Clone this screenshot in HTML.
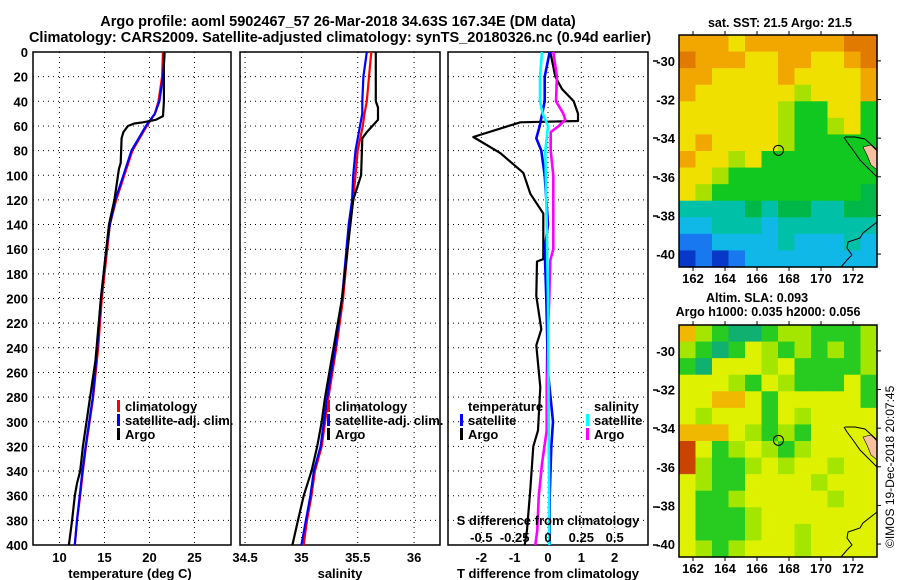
<!DOCTYPE html>
<html><head><meta charset="utf-8"><style>
html,body{margin:0;padding:0;background:#fff;}
svg{display:block;font-family:"Liberation Sans",sans-serif;font-weight:bold;}
</style></head><body>
<svg id="c" width="900" height="580" viewBox="0 0 900 580" xmlns="http://www.w3.org/2000/svg">
<text x="338" y="26" font-size="14.5" text-anchor="middle">Argo profile: aoml 5902467_57 26-Mar-2018 34.63S 167.34E (DM data)</text>
<text x="340" y="42" font-size="14.5" text-anchor="middle">Climatology: CARS2009. Satellite-adjusted climatology: synTS_20180326.nc (0.94d earlier)</text>
<g id="maps"></g>
<g id="plots"></g>
<text transform="translate(894,548) rotate(-90)" font-size="12" font-weight="normal">©IMOS 19-Dec-2018 20:07:45</text>
</svg>
<script>
// ---------- DATA ----------
const depthTicks = [0,20,40,60,80,100,120,140,160,180,200,220,240,260,280,300,320,340,360,380,400];
const tempTicks = [10,15,20,25];
const salTicks = [34.5,35,35.5,36];
const tdiffTicks = [-2,-1,0,1,2];
const sdiffTicks = [-0.5,-0.25,0,0.25,0.5];

const climTDepth = [0,20,40,50,60,80,100,120,140,160,200,240,280,300,320,340,360,380,400];
const climT      = [21.5,21.4,21.0,20.6,19.7,18.1,17.2,16.3,15.6,15.3,14.7,14.3,13.75,13.35,12.95,12.6,12.3,11.95,11.7];
const satT       = [21.7,21.5,21.1,20.6,19.6,18.0,17.1,16.2,15.6,15.2,14.6,14.2,13.7,13.3,12.9,12.55,12.25,11.95,11.7];
const argoTDepth = [0,20,40,52,55,57,58,60,65,70,90,95,100,110,120,140,200,250,280,300,320,340,350,360,380,400];
const argoT      = [21.6,21.6,21.6,21.5,20.7,19.3,18.3,17.6,17.1,16.9,16.8,16.6,16.5,16.3,16.1,15.5,14.6,14.0,13.4,13.0,12.6,12.3,11.95,11.7,11.4,11.05];

const climSDepth = [0,20,40,50,60,80,100,120,140,200,240,280,300,320,340,360,380,400];
const climS      = [35.62,35.60,35.58,35.56,35.545,35.50,35.48,35.46,35.43,35.37,35.31,35.24,35.21,35.18,35.12,35.09,35.05,35.02];
const satS       = [35.58,35.55,35.54,35.54,35.52,35.48,35.46,35.45,35.42,35.36,35.30,35.23,35.20,35.17,35.11,35.08,35.04,35.00];
const argoSDepth = [0,40,45,55,60,65,70,100,120,200,280,300,320,340,360,380,400];
const argoS      = [35.66,35.66,35.68,35.68,35.63,35.58,35.54,35.53,35.46,35.36,35.21,35.18,35.14,35.09,35.02,34.97,34.92];

const tdArgoDepth = [0,20,30,40,50,56,57,69,82,98,115,131,145,168,170,198,225,238,272,307,320,355,388,400];
const tdArgo      = [0.07,0.22,0.42,0.77,0.9,0.9,-0.83,-2.24,-1.43,-0.74,-0.53,-0.14,-0.14,-0.14,-0.33,-0.35,-0.2,-0.35,-0.23,-0.3,-0.44,-0.53,-0.63,-0.7];
const tdSatDepth  = [0,20,40,60,70,80,100,140,160,200,260,300,320,360,400];
const tdSat       = [0.05,-0.1,-0.1,-0.25,-0.35,-0.2,-0.1,0.0,-0.1,-0.05,0.0,0.15,0.1,0.05,0.05];
const sdSatDepth  = [0,20,40,50,60,80,140,200,300,400];
const sdSat       = [-0.045,-0.06,-0.06,-0.04,0.0,-0.02,-0.01,0.0,0.005,0.01];
const sdArgoDepth = [0,20,40,50,55,60,65,80,100,140,160,169,200,240,272,307,334,361,388,400];
const sdArgo      = [0.04,0.067,0.06,0.115,0.13,0.08,0.02,0.02,0.04,0.04,0.04,0.017,0.01,-0.005,-0.01,-0.01,-0.045,-0.07,-0.08,-0.095];

// ---------- HELPERS ----------
const NS = "http://www.w3.org/2000/svg";
const plots = document.getElementById('plots');
const maps = document.getElementById('maps');
function mk(tag, attrs, parent){const e=document.createElementNS(NS,tag);for(const k in attrs)e.setAttribute(k,attrs[k]);parent.appendChild(e);return e;}
const Y0=52, Y1=545;
function yD(d){return Y0+(d/400)*(Y1-Y0);}
function scale(a,b,x0,x1){return v=>x0+(v-a)/(b-a)*(x1-x0);}

function panel(name,x0,x1,xs,xTicks,xFmt,showDepthLabels){
  const g=mk('g',{},plots);
  
  
  depthTicks.forEach(d=>{
    if(d>0&&d<400){const l=mk('line',{x1:x0,x2:x1,y1:yD(d),y2:yD(d),stroke:'#000','stroke-width':1,'stroke-dasharray':'1,4'},g);
    }
    if(showDepthLabels){const t=mk('text',{x:28,y:yD(d)+5,'font-size':13,'text-anchor':'end'},g);t.textContent=d;
    }
  });
  xTicks.forEach(v=>{
    const x=xs(v);
    const l=mk('line',{x1:x,x2:x,y1:Y0,y2:Y1,stroke:'#000','stroke-width':1,'stroke-dasharray':'1,4'},g);
    
    if(xFmt){const t=mk('text',{x:x,y:562,'font-size':13,'text-anchor':'middle'},g);t.textContent=xFmt(v);
    }
  });
  const r=mk('rect',{x:x0,y:Y0,width:x1-x0,height:Y1-Y0,fill:'none',stroke:'#000','stroke-width':1.5},g);
  
  return g;
}
function line(g,name,xs,vals,depths,color,w){
  const pts=vals.map((v,i)=>xs(v).toFixed(1)+','+yD(depths[i]).toFixed(1)).join(' ');
  const p=mk('polyline',{points:pts,fill:'none',stroke:color,'stroke-width':w||2.2,'stroke-linejoin':'round'},g);
  
}
function txt(g,name,x,y,s,size,anchor){const t=mk('text',{x:x,y:y,'font-size':size||13,'text-anchor':anchor||'start'},g);t.textContent=s;
  return t;}
function legMark(g,name,x,y,c){const r=mk('rect',{x:x,y:y-11,width:3,height:12,fill:c},g);}

// ---------- PANEL 1 : temperature ----------
const xT=scale(7.06,29.06,33,231);
const g1=panel('temperature-panel',33,231,xT,tempTicks,v=>v,true);
line(g1,'climatology-temp-line',xT,climT,climTDepth,'#f00');
line(g1,'satellite-temp-line',xT,satT,climTDepth,'#00f');
line(g1,'argo-temp-line',xT,argoT,argoTDepth,'#000');
txt(g1,'x-axis-title',130,578,'temperature (deg C)',13,'middle');
legMark(g1,'legend-mark-climatology',117,411,'#f00');txt(g1,'legend-climatology',125,411,'climatology');
legMark(g1,'legend-mark-satellite',117,425,'#00f');txt(g1,'legend-satellite',125,425,'satellite-adj. clim.');
legMark(g1,'legend-mark-argo',117,439,'#000');txt(g1,'legend-argo',125,439,'Argo');

// ---------- PANEL 2 : salinity ----------
const xS=scale(34.455,36.23,240,440);
const g2=panel('salinity-panel',240,440,xS,salTicks,v=>v,false);
line(g2,'climatology-sal-line',xS,climS,climSDepth,'#f00');
line(g2,'satellite-sal-line',xS,satS,climSDepth,'#00f');
line(g2,'argo-sal-line',xS,argoS,argoSDepth,'#000');
txt(g2,'x-axis-title',340,578,'salinity',13,'middle');
legMark(g2,'legend-mark-climatology',327,411,'#f00');txt(g2,'legend-climatology',335,411,'climatology');
legMark(g2,'legend-mark-satellite',327,425,'#00f');txt(g2,'legend-satellite',335,425,'satellite-adj. clim.');
legMark(g2,'legend-mark-argo',327,439,'#000');txt(g2,'legend-argo',335,439,'Argo');

// ---------- PANEL 3 : differences ----------
const xTd=scale(-3,3,448,648);
const xSd=scale(-0.75,0.75,448,648);
const g3=panel('difference-panel',448,648,xTd,tdiffTicks,v=>v,false);
line(g3,'argo-temp-diff-line',xTd,tdArgo,tdArgoDepth,'#000');
line(g3,'argo-sal-diff-line',xSd,sdArgo,sdArgoDepth,'#f0f',2.6);
line(g3,'satellite-temp-diff-line',xTd,tdSat,tdSatDepth,'#00f',2.6);
line(g3,'satellite-sal-diff-line',xSd,sdSat,sdSatDepth,'#0ff',2.6);
txt(g3,'x-axis-title',548,578,'T difference from climatology',13,'middle');
txt(g3,'s-axis-title',548,525,'S difference from climatology',13,'middle');
sdiffTicks.forEach(v=>txt(g3,'s-tick-label',xSd(v),542,v,13,'middle'));
txt(g3,'legend-temperature-header',468,411,'temperature');
legMark(g3,'legend-mark-t-satellite',460,425,'#00f');txt(g3,'legend-t-satellite',468,425,'satellite');
legMark(g3,'legend-mark-t-argo',460,439,'#000');txt(g3,'legend-t-argo',468,439,'Argo');
txt(g3,'legend-salinity-header',594,411,'salinity');
legMark(g3,'legend-mark-s-satellite',586,425,'#0ff');txt(g3,'legend-s-satellite',594,425,'satellite');
legMark(g3,'legend-mark-s-argo',586,439,'#f0f');txt(g3,'legend-s-argo',594,439,'Argo');
[61,138,177,216,390,428,507,545].forEach(y=>{const l=mk('line',{x1:653,x2:658,y1:y,y2:y,stroke:'#000','stroke-width':1.5},g3);
  });

// ---------- MAPS ----------
const sstRows=[
"OOOYOOOOOODD","DOOOYYOOYYOD","OOYYYYOYYYYO","OYYYYYYLYYYO","YYYYYYLGGYYG","YYYYYYLGGLYG","YOYYYYLGGGGG",
"OYYLYGGGGGGG","YYLGGGGGGGGG","YLGGGGGGGGGg","TTTTgTggTTgg","CCTTTCTTTTTT","BBCCCCTCCCTC","NBNBCCCCCCCC"];
const sstCol={D:'#e07a00',O:'#f2a600',Y:'#f0e000',L:'#a8e000',G:'#10c820',g:'#00b848',T:'#00c0a8',C:'#10b8e8',B:'#1878f0',N:'#0838c8'};
const slaRows=[
"OLGEEGLLGGGL","LGEGYLGLGLGL","GEYYYLYGGGGL","YYYLGYLGGGYG","YYOOYGYYYYYG","YLYYYGYLYYYY","OOOYLGLGYYYY",
"RYGLYLGLYYYY","RLGGLYLYYLYY","YLGGYYYYLYYY","YGGLYYYYYLYY","YGGGLYYYYYYY","YGGGLYYLYYYY","YLGLYYYLYYYY"];
const slaCol={Y:'#def200',L:'#a4e600',G:'#28cc20',E:'#10b070',O:'#f0b800',R:'#c84400'};
const lonTicks=[162,164,166,168,170,172];
const latTicks=[-30,-32,-34,-36,-38,-40];

function map(name,top,rows,cols){
  const L=679,R=877,H=232,T=top;
  const g=mk('g',{},maps);
  
  const cw=(R-L)/12,ch=H/14;
  rows.forEach((row,ri)=>{[...row].forEach((c,ci)=>{
    const r=mk('rect',{x:(L+ci*cw).toFixed(2),y:(T+ri*ch).toFixed(2),width:(cw+0.6).toFixed(2),height:(ch+0.6).toFixed(2),fill:cols[c]},g);
    
  });});
  const lx=scale(161.125,173.5,L,R), ly=scale(-28.66,-40.67,T,T+H);
  // coast
  const c1=mk('polyline',{points:`${L+165},${T+102} ${L+168},${T+107} ${L+174},${T+115} ${L+181},${T+125} ${L+191},${T+135} ${L+198},${T+142}`,fill:'none',stroke:'#000','stroke-width':1},g);
  
  const c0=mk('polyline',{points:`${L+166},${T+102} ${L+176},${T+102} ${L+186},${T+104} ${L+198},${T+115}`,fill:'none',stroke:'#000','stroke-width':1},g);
  
  const isl=mk('path',{d:`M${L+184},${T+112} L${L+192},${T+110} L${L+198},${T+116} L${L+198},${T+135} L${L+192},${T+130} L${L+188},${T+120} Z`,fill:'#f8c0a0',stroke:'#000','stroke-width':0.6},g);
  
  const c2=mk('polyline',{points:`${R},${T+187} ${L+184},${T+198} ${L+181},${T+203} ${L+169},${T+207} ${L+168},${T+213} ${L+173},${T+220} ${L+168},${T+225} ${L+162},${T+232}`,fill:'none',stroke:'#000','stroke-width':1},g);
  
  const ci=mk('circle',{cx:lx(167.34),cy:ly(-34.63),r:5,fill:'none',stroke:'#000','stroke-width':1},g);
  
  const fr=mk('rect',{x:L,y:T,width:R-L,height:H,fill:'none',stroke:'#000','stroke-width':1.5},g);
  
  lonTicks.forEach(v=>{const x=lx(v);
    mk('line',{x1:x,x2:x,y1:T-4,y2:T,stroke:'#000'},g);mk('line',{x1:x,x2:x,y1:T+H,y2:T+H+4,stroke:'#000'},g);
    txt(g,'lon-tick-label',x,T+H+16,v,13,'middle');});
  latTicks.forEach(v=>{const y=ly(v);
    mk('line',{x1:R,x2:R+4,y1:y,y2:y,stroke:'#000'},g);
    txt(g,'lat-tick-label',675,y+5,v,13,'end');});
  return g;
}
const m1=map('sst-map',35,sstRows,sstCol);
txt(m1,'sst-map-title',780,27,'sat. SST: 21.5 Argo: 21.5',12.5,'middle');
const m2=map('sla-map',325,slaRows,slaCol);
txt(m2,'sla-map-title-1',757,302,'Altim. SLA: 0.093',12.5,'middle');
txt(m2,'sla-map-title-2',768,316,'Argo h1000: 0.035 h2000: 0.056',12.5,'middle');
</script>
</body></html>
